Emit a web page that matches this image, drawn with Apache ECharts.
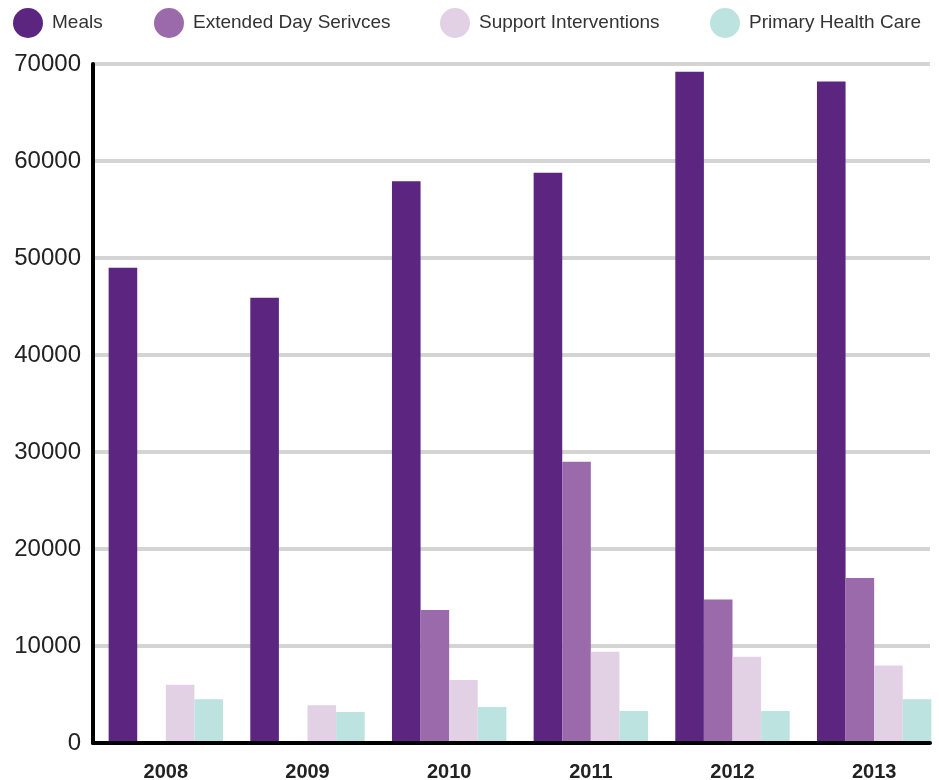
<!DOCTYPE html>
<html>
<head>
<meta charset="utf-8">
<script src="https://cdn.jsdelivr.net/npm/echarts@6/dist/echarts.min.js"></script>
<style>
  html, body { margin: 0; padding: 0; background: #ffffff; }
  #chart { width: 939px; height: 780px; }
</style>
</head>
<body>
<div id="chart"></div>
<script>
const years = ["2008", "2009", "2010", "2011", "2012", "2013"];
const meals = [49000, 45900, 57900, 58800, 69200, 68200];
const extendedDay = [0, 0, 13700, 29000, 14800, 17000];
const supportInterventions = [6000, 3900, 6500, 9400, 8900, 8000];
const primaryHealth = [4500, 3200, 3700, 3300, 3300, 4500];
const yTicks = [0, 10000, 20000, 30000, 40000, 50000, 60000, 70000];

const seriesNames = ["Meals", "Extended Day Serivces", "Support Interventions", "Primary Health Care"];
const seriesColors = ["#5c2680", "#9b6aab", "#e2d1e5", "#bde3e0"];
const seriesData = [meals, extendedDay, supportInterventions, primaryHealth];
const legendLeft = [13, 154, 440, 710];

const FONT = "Liberation Sans, Arial, sans-serif";
const yMax = yTicks[yTicks.length - 1];
const yStep = yTicks[1] - yTicks[0];

const chart = echarts.init(document.getElementById("chart"));

const legends = seriesNames.map((name, i) => ({
  data: [name],
  left: legendLeft[i],
  top: 8,
  icon: "circle",
  itemWidth: 30,
  itemHeight: 30,
  padding: 0,
  textStyle: { color: "#333333", fontSize: 19, fontFamily: FONT, padding: [0, 0, 0, 4] },
}));

chart.setOption({
  animation: false,
  legend: legends,
  grid: [
    // axes + gridlines frame
    { left: 93, right: 9, top: 64, bottom: 37, containLabel: false, outerBoundsMode: "none" },
    // bar area (groups sit slightly offset from the frame in the original)
    { left: 95, right: -6, top: 64, bottom: 37, containLabel: false, outerBoundsMode: "none" },
  ],
  xAxis: [
    {
      gridIndex: 0,
      type: "category",
      data: years,
      axisLine: { lineStyle: { color: "#000000", width: 4 } },
      axisTick: { show: false },
      axisLabel: { show: false },
      z: 5,
    },
    {
      gridIndex: 1,
      type: "category",
      data: years,
      axisLine: { show: false },
      axisTick: { show: false },
      axisLabel: { color: "#222222", fontSize: 20, fontWeight: "bold", fontFamily: FONT, margin: 19 },
    },
  ],
  yAxis: [
    {
      gridIndex: 0,
      type: "value",
      min: 0,
      max: yMax,
      interval: yStep,
      axisLine: { show: true, lineStyle: { color: "#000000", width: 4 } },
      axisTick: { show: false },
      splitLine: { lineStyle: { color: "#d4d4d4", width: 4 } },
      axisLabel: { color: "#222222", fontSize: 24, fontFamily: FONT, margin: 12, formatter: (v) => String(v) },
    },
    {
      gridIndex: 1,
      type: "value",
      min: 0,
      max: yMax,
      interval: yStep,
      show: false,
    },
  ],
  series: seriesNames.map((name, i) => ({
    name,
    type: "bar",
    xAxisIndex: 1,
    yAxisIndex: 1,
    data: seriesData[i],
    barGap: "0%",
    barWidth: 28.6,
    z: 3,
    itemStyle: { color: seriesColors[i] },
  })),
});
</script>
</body>
</html>
